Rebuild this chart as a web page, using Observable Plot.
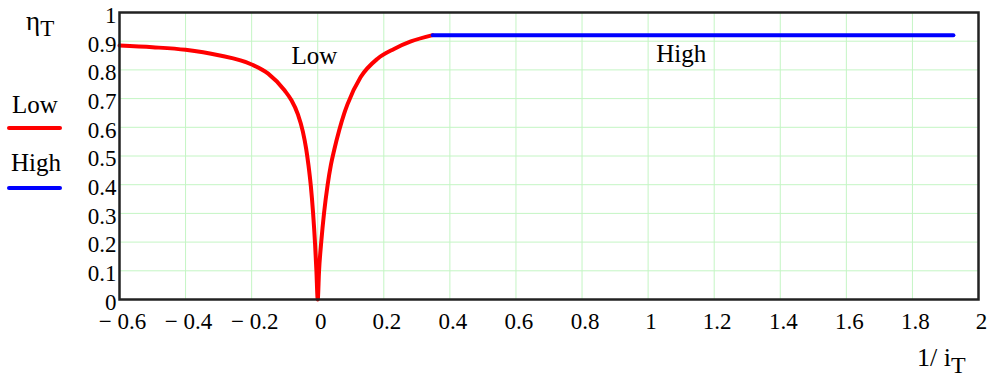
<!DOCTYPE html>
<html>
<head>
<meta charset="utf-8">
<script src="https://cdn.jsdelivr.net/npm/d3@7"></script>
<script src="https://cdn.jsdelivr.net/npm/@observablehq/plot@0.6"></script>
<style>
  html, body { margin: 0; padding: 0; background: #fff; }
  #wrap { position: relative; width: 991px; height: 380px; font-family: "Liberation Serif", "DejaVu Serif", serif; color: #000; }
  #chart { position: absolute; left: 0; top: 0; }
  .ov { position: absolute; white-space: nowrap; line-height: 1; }
  .sw { position: absolute; height: 4px; border-radius: 2px; }
</style>
</head>
<body>
<div id="wrap">
  <div id="chart"></div>
  <div class="ov" style="left:26px; top:8px; font-size:27px;">η<span style="font-size:23px; position:relative; top:6px;">T</span></div>
  <div class="ov" style="left:12px; top:92px; font-size:25px;">Low</div>
  <div class="sw" style="left:7px; top:126px; width:55px; background:#ff0000;"></div>
  <div class="ov" style="left:11px; top:150px; font-size:25px;">High</div>
  <div class="sw" style="left:7px; top:186px; width:55px; background:#0000ff;"></div>
  <div class="ov" style="left:917px; top:345px; font-size:26px;">1/ i<span style="font-size:24px; position:relative; top:7px;">T</span></div>
</div>
<script>
// ----- data -----
const xTicks = [-0.6, -0.4, -0.2, 0, 0.2, 0.4, 0.6, 0.8, 1, 1.2, 1.4, 1.6, 1.8, 2];
const yTicks = [0, 0.1, 0.2, 0.3, 0.4, 0.5, 0.6, 0.7, 0.8, 0.9, 1];

const lowX = [-0.6, -0.5, -0.4, -0.3, -0.2, -0.15, -0.1, -0.08, -0.06, -0.045, -0.035, -0.028, -0.021, -0.014, -0.008, -0.004, 0,
              0.004, 0.011, 0.019, 0.030, 0.040, 0.050, 0.065, 0.08, 0.09, 0.13, 0.181, 0.231, 0.282, 0.348];
const lowY = [0.885, 0.879, 0.870, 0.851, 0.819, 0.787, 0.728, 0.695, 0.645, 0.585, 0.525, 0.468, 0.397, 0.300, 0.192, 0.100, 0,
              0.100, 0.205, 0.300, 0.400, 0.470, 0.522, 0.590, 0.648, 0.680, 0.775, 0.839, 0.873, 0.899, 0.921];

const highX = [0.348, 1.924];
const highY = [0.921, 0.921];

const labelText = ["Low", "High"];
const labelX = [-0.01, 1.1];
const labelY = [0.847, 0.857];

// ----- build tables -----
const low = lowX.map((x, i) => ({x, y: lowY[i]}));
const high = highX.map((x, i) => ({x, y: highY[i]}));
const labels = labelText.map((t, i) => ({t, x: labelX[i], y: labelY[i]}));

const fmtX = d => d < 0 ? "\u2212 " + Math.abs(d) : String(d);
const fmtY = d => String(+d.toFixed(1));
const grid = "#c4f5c4";

const chart = Plot.plot({
  width: 991,
  height: 380,
  marginLeft: 119,
  marginRight: 13,
  marginTop: 12,
  marginBottom: 81,
  style: { fontFamily: "Liberation Serif, serif", fontSize: "22px", color: "#000", background: "transparent" },
  x: { domain: [-0.6, 2] },
  y: { domain: [0, 1] },
  marks: [
    Plot.gridX(xTicks, { stroke: grid, strokeOpacity: 1, strokeWidth: 1 }),
    Plot.gridY(yTicks, { stroke: grid, strokeOpacity: 1, strokeWidth: 1 }),
    Plot.axisX(xTicks, { tickSize: 0, tickPadding: 13, tickFormat: fmtX, fontSize: 23, dx: 3, label: null }),
    Plot.axisY(yTicks, { tickSize: 0, tickPadding: 3, tickFormat: fmtY, fontSize: 23, dy: 3, label: null }),
    Plot.line(low, { x: "x", y: "y", stroke: "#ff0000", strokeWidth: 4, curve: "monotone-x", strokeLinejoin: "round", strokeLinecap: "round" }),
    Plot.line(high, { x: "x", y: "y", stroke: "#0000ff", strokeWidth: 4, strokeLinecap: "round" }),
    Plot.text(labels, { x: "x", y: "y", text: "t", fontSize: 25, fill: "#000", textAnchor: "middle" }),
    Plot.frame({ stroke: "#222", strokeWidth: 2.5 })
  ]
});
document.getElementById("chart").appendChild(chart);
</script>
</body>
</html>
